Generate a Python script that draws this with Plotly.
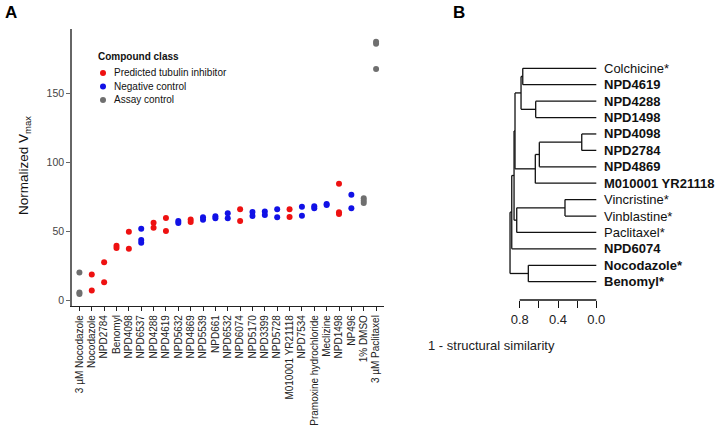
import plotly.graph_objects as go

W, H = 718, 425

# ---------------- Panel A data ----------------
categories = ["3 µM Nocodazole", "Nocodazole", "NPD2784", "Benomyl", "NPD4098", "NPD6537",
              "NPD4288", "NPD4619", "NPD5632", "NPD4869", "NPD5539", "NPD661", "NPD6532",
              "NPD6074", "NPD5170", "NPD3399", "NPD5728", "M010001 YR21118", "NPD7534",
              "Pramoxine hydrochloride", "Meclizine", "NPD1498", "NP496", "1% DMSO",
              "3 µM Paclitaxel"]

pred_x = ["Nocodazole", "Nocodazole", "NPD2784", "NPD2784", "Benomyl", "Benomyl",
          "NPD4098", "NPD4098", "NPD4288", "NPD4288", "NPD4619", "NPD4619",
          "NPD4869", "NPD4869", "NPD6074", "NPD6074", "M010001 YR21118", "M010001 YR21118",
          "NPD1498", "NPD1498", "NPD1498"]
pred_y = [18.4, 6.8, 27.3, 12.8, 39.4, 37.6, 49.5, 37.2, 56.0, 52.4, 59.4, 50.0,
          58.4, 56.5, 65.7, 57.2, 65.7, 60.1, 84.3, 63.5, 62.3]

neg_x = ["NPD6537", "NPD6537", "NPD6537", "NPD5632", "NPD5632", "NPD5539", "NPD5539",
         "NPD661", "NPD661", "NPD6532", "NPD6532", "NPD5170", "NPD5170", "NPD3399", "NPD3399",
         "NPD5728", "NPD5728", "NPD7534", "NPD7534", "Pramoxine hydrochloride",
         "Pramoxine hydrochloride", "Meclizine", "Meclizine", "NP496", "NP496"]
neg_y = [51.7, 43.5, 41.5, 57.2, 55.8, 59.9, 58.2, 60.6, 59.2, 62.8, 59.2, 63.8, 60.9,
         64.2, 61.6, 65.7, 59.9, 67.6, 61.1, 67.9, 66.4, 69.6, 68.8, 76.3, 66.4]

assay_x = ["3 µM Nocodazole", "3 µM Nocodazole", "3 µM Nocodazole", "1% DMSO", "1% DMSO",
           "1% DMSO", "3 µM Paclitaxel", "3 µM Paclitaxel", "3 µM Paclitaxel"]
assay_y = [20.0, 5.5, 4.3, 73.8, 72.0, 70.3, 187.2, 185.6, 167.4]

y_ticks = [0, 50, 100, 150]

legend_title = "Compound class"
legend_labels = ["Predicted tubulin inhibitor", "Negative control", "Assay control"]

# ---------------- Panel B data ----------------
leaves = ["Colchicine*", "NPD4619", "NPD4288", "NPD1498", "NPD4098", "NPD2784", "NPD4869",
          "M010001 YR21118", "Vincristine*", "Vinblastine*", "Paclitaxel*", "NPD6074",
          "Nocodazole*", "Benomyl*"]
leaf_bold = [False, True, True, True, True, True, True, True, False, False, False, True, True, True]
# merges: (child a, child b, height); ints >= 100 refer to earlier merges (100 + index)
merge_a = ["NPD4098", "Vincristine*", 100, "NPD4288", 102, "Nocodazole*", "Colchicine*",
           106, 101, 107, 109, 110, 111]
merge_b = ["NPD2784", "Vinblastine*", "NPD4869", "NPD1498", "M010001 YR21118", "Benomyl*",
           "NPD4619", 103, "Paclitaxel*", 104, 108, "NPD6074", 105]
merge_h = [0.152, 0.327, 0.595, 0.633, 0.637, 0.71, 0.768, 0.786, 0.831, 0.849, 0.859,
           0.883, 0.901]
sim_label_ticks = [0.0, 0.4, 0.8]
sim_minor_ticks = [0.2, 0.6]

# ---------------- figure ----------------
RED, BLUE, GREY = "#ee1111", "#1111e6", "#6f6f6f"
COLORS = [RED, BLUE, GREY]
FONT = "Liberation Sans, Arial, sans-serif"

fig = go.Figure()
mk = dict(size=6, line=dict(width=0))
series = [(pred_x, pred_y), (neg_x, neg_y), (assay_x, assay_y)]
for (sx, sy), name, col in zip(series, legend_labels, COLORS):
    fig.add_trace(go.Scatter(x=sx, y=sy, mode="markers", name=name, showlegend=False,
                             marker=dict(color=col, **mk), xaxis="x", yaxis="y"))

# compact legend drawn on its own small axes
leg_rows = list(range(len(legend_labels)))
fig.add_trace(go.Scatter(x=[0] * len(leg_rows), y=leg_rows, mode="markers", showlegend=False,
                         hoverinfo="skip", marker=dict(color=COLORS, size=6, line=dict(width=0)),
                         xaxis="x3", yaxis="y3"))

# dendrogram segments
node_y = {name: float(i) for i, name in enumerate(leaves)}
node_h = {name: 0.0 for name in leaves}
seg_x, seg_y = [], []
for k, (a, b, h) in enumerate(zip(merge_a, merge_b, merge_h)):
    for c in (a, b):
        seg_x += [node_h[c], h, None]
        seg_y += [node_y[c], node_y[c], None]
    seg_x += [h, h, None]
    seg_y += [node_y[a], node_y[b], None]
    node_y[100 + k] = (node_y[a] + node_y[b]) / 2
    node_h[100 + k] = h
fig.add_trace(go.Scatter(x=seg_x, y=seg_y, mode="lines", line=dict(color="#111", width=1.3),
                         showlegend=False, hoverinfo="skip", xaxis="x2", yaxis="y2"))

def px_x(p):
    return p / W

def px_y(p):
    return 1 - p / H

# Panel A axes
yA0, yA_per_px = 300.0, 50 / 69.0
fig.update_layout(
    xaxis=dict(domain=[px_x(72), px_x(383.5)], type="category", categoryorder="array",
               categoryarray=categories, range=[-0.6, 24.6], showline=True, linecolor="#222",
               linewidth=1.2, ticks="outside", ticklen=4, tickcolor="#222", tickangle=-90,
               tickfont=dict(family=FONT, size=10, color="#222"), showgrid=False, zeroline=False,
               anchor="y", fixedrange=True),
    yaxis=dict(domain=[px_y(306), px_y(29)],
               range=[(yA0 - 306) * yA_per_px, (yA0 - 29) * yA_per_px],
               tickvals=y_ticks, showline=True, linecolor="#666", linewidth=1.5,
               ticks="outside", ticklen=4, tickcolor="#666",
               tickfont=dict(family=FONT, size=10.5, color="#444"), showgrid=False,
               zeroline=False, anchor="x"),
)

# legend axes: row spacing 13.5 px, first row at y=73 px, marker at x=103 px
leg_left, leg_right, leg_top, leg_bot = 95.0, 111.0, 66.0, 107.0
fig.update_layout(
    xaxis3=dict(domain=[px_x(leg_left), px_x(leg_right)],
                range=[(leg_left - 103) / 16, (leg_right - 103) / 16],
                visible=False, anchor="y3", fixedrange=True),
    yaxis3=dict(domain=[px_y(leg_bot), px_y(leg_top)],
                range=[(leg_bot - 73) / 13.5, (leg_top - 73) / 13.5],
                visible=False, anchor="x3", fixedrange=True),
)

# Panel B axes
b_left, b_right = 500.0, 612.0
b_zero, b_per_px = 596.3, 0.8 / 76.6
leaf_top, leaf_step = 68.3, 16.415
fig.update_layout(
    xaxis2=dict(domain=[px_x(b_left), px_x(b_right)],
                range=[(b_zero - b_left) * b_per_px, (b_zero - b_right) * b_per_px],
                tickvals=sim_label_ticks, ticktext=[f"{v:.1f}" for v in sim_label_ticks],
                ticks="outside", ticklen=7, tickwidth=1.3, tickcolor="#111",
                minor=dict(tickmode="array", tickvals=sim_minor_ticks, ticks="outside",
                           ticklen=7, tickwidth=1.3, tickcolor="#111", showgrid=False),
                showline=False, showgrid=False, zeroline=False,
                tickfont=dict(family=FONT, size=13, color="#222"), anchor="y2"),
    yaxis2=dict(domain=[px_y(300), px_y(55)],
                range=[(300 - leaf_top) / leaf_step, (55 - leaf_top) / leaf_step],
                visible=False, anchor="x2"),
)
fig.add_shape(type="line", xref="x2", yref="y2 domain", x0=0, x1=0.8, y0=0, y1=0,
              line=dict(color="#111", width=1.3))

ann = []
for i, (name, bold) in enumerate(zip(leaves, leaf_bold)):
    ann.append(dict(x=0, y=i, xref="x2", yref="y2", xanchor="left", yanchor="middle",
                    xshift=6, showarrow=False, text=f"<b>{name}</b>" if bold else name,
                    font=dict(family=FONT, size=13, color="#111")))
for i, lab in enumerate(legend_labels):
    ann.append(dict(x=0, y=i, xref="x3", yref="y3", xanchor="left", yanchor="middle",
                    xshift=9, showarrow=False, text=lab,
                    font=dict(family=FONT, size=10, color="#111")))
ann += [
    dict(x=px_x(96), y=px_y(56), xref="paper", yref="paper", xanchor="left", yanchor="middle",
         showarrow=False, text=f"<b>{legend_title}</b>",
         font=dict(family=FONT, size=10, color="#111")),
    dict(x=px_x(556.7), y=px_y(355), xref="paper", yref="paper", showarrow=False,
         text="1 - structural similarity", font=dict(family=FONT, size=13, color="#222")),
    dict(x=px_x(24), y=px_y(166), xref="paper", yref="paper", xanchor="center",
         yanchor="middle", showarrow=False, textangle=-90,
         text="Normalized V<sub>max</sub>", font=dict(family=FONT, size=13.5, color="#111")),
    dict(x=px_x(3), y=px_y(1), xref="paper", yref="paper", xanchor="left", yanchor="top",
         showarrow=False, text="<b>A</b>", font=dict(family=FONT, size=17, color="#000")),
    dict(x=px_x(451), y=px_y(1), xref="paper", yref="paper", xanchor="left", yanchor="top",
         showarrow=False, text="<b>B</b>", font=dict(family=FONT, size=17, color="#000")),
]

fig.update_layout(
    width=W, height=H, margin=dict(l=0, r=0, t=0, b=0),
    paper_bgcolor="white", plot_bgcolor="white",
    annotations=ann, showlegend=False,
    font=dict(family=FONT),
)

fig.write_html("out.html", config={"displayModeBar": False},
               post_script="document.body.style.margin='0';document.body.style.overflow='hidden';")
